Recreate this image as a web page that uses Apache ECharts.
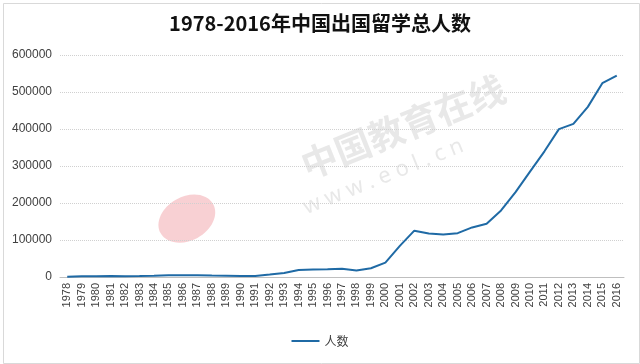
<!DOCTYPE html>
<html><head><meta charset="utf-8">
<script src="https://cdn.jsdelivr.net/npm/echarts@6/dist/echarts.min.js"></script>
<style>html,body{margin:0;padding:0;background:#fff}#c{width:640px;height:364px}</style>
</head><body><div id="c"></div>
<script>
const years = ['1978','1979','1980','1981','1982','1983','1984','1985','1986','1987','1988','1989','1990','1991','1992','1993','1994','1995','1996','1997','1998','1999','2000','2001','2002','2003','2004','2005','2006','2007','2008','2009','2010','2011','2012','2013','2014','2015','2016'];
const students = [860,1777,2124,2922,2326,2633,3073,4888,4676,4703,3786,3329,2950,2900,6540,10742,19071,20381,20905,22410,17622,23749,38989,83973,125179,117307,114682,118515,134000,144000,179800,229300,284700,339700,399600,413900,459800,523700,544500];
const seriesName = '人数';
const titleText = '1978-2016年中国出国留学总人数';

const chart = echarts.init(document.getElementById('c'));
chart.setOption({
  backgroundColor: '#fff',
  animation: false,
  title: {
    text: titleText, left: 'center', top: 8,
    textStyle: {fontFamily: 'Noto Sans CJK SC', fontSize: 20, fontWeight: 'bold', color: '#111'}
  },
  graphic: [
    {type: 'rect', left: 1, top: 1, shape: {width: 636, height: 360}, style: {fill: 'none', stroke: '#d9d9d9', lineWidth: 1}, silent: true},
    {type: 'ellipse', left: 150, top: 185, rotation: 0.5, z: 0, silent: true,
     shape: {cx: 0, cy: 0, rx: 30, ry: 22}, style: {fill: 'rgba(235,120,130,0.35)'}},
    {type: 'text', left: 296, top: 70, rotation: 0.38, z: 0, silent: true,
     style: {text: '中国教育在线', fontSize: 36, fontFamily: 'Noto Sans CJK SC', fontWeight: 'bold', fill: 'rgba(150,150,150,0.22)'}},
    {type: 'text', left: 300, top: 135, rotation: 0.38, z: 0, silent: true,
     style: {text: 'w w w . e o l . c n', fontSize: 22, fontFamily: 'Noto Sans', fill: 'rgba(150,150,150,0.22)'}}
  ],
  grid: {left: 60, right: 16, top: 55, bottom: 87, containLabel: false},
  legend: {
    data: [seriesName], bottom: 12, left: 'center', itemWidth: 28, itemHeight: 2, icon: 'rect',
    textStyle: {fontFamily: 'Noto Sans CJK SC', fontSize: 12, color: '#404040'}
  },
  xAxis: {
    type: 'category', data: years, boundaryGap: true,
    axisLine: {lineStyle: {color: '#bfbfbf'}},
    axisTick: {show: false},
    axisLabel: {rotate: 90, interval: 0, fontSize: 11, color: '#404040', fontFamily: 'Liberation Sans', margin: 6}
  },
  yAxis: {
    type: 'value', min: 0, max: 600000, interval: 100000,
    axisLine: {show: false}, axisTick: {show: false},
    axisLabel: {fontSize: 12, color: '#404040', fontFamily: 'Liberation Sans', margin: 8, formatter: v => String(v)},
    splitLine: {lineStyle: {color: '#d0d0d0', type: 'dotted'}}
  },
  series: [{
    name: seriesName, type: 'line', data: students, symbol: 'none',
    lineStyle: {color: '#1f6aa5', width: 2}, itemStyle: {color: '#1f6aa5'}
  }]
});
</script></body></html>
